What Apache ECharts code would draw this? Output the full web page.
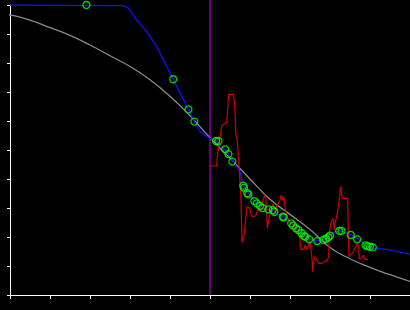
<!DOCTYPE html>
<html>
<head>
<meta charset="utf-8">
<script src="https://cdn.jsdelivr.net/npm/echarts@6/dist/echarts.min.js"></script>
<style>html,body{margin:0;padding:0;background:#000;}#c{width:410px;height:310px;}</style>
</head>
<body>
<div id="c"></div>
<script>
// Gray reference curve
const grayX = [-0.25, 0, 0.5, 1, 1.5, 2, 2.5, 3, 3.5, 4, 4.5, 5, 5.5, 6, 6.5, 7, 7.5, 8, 8.5, 9, 9.5, 10];
const grayY = [9.71, 9.66, 9.48, 9.22, 8.95, 8.62, 8.25, 7.88, 7.42, 6.85, 6.18, 5.42, 4.72, 4.0, 3.3, 2.78, 2.26, 1.64, 1.25, 0.95, 0.7, 0.47];

// Blue fitted curve
const blueX = [0, 2.83, 2.96, 3.17, 3.42, 3.67, 4.08, 4.46, 4.61, 4.75, 5.0, 5.17, 5.42, 5.58, 5.75, 5.83, 5.96, 6.13, 6.29, 6.5, 6.63, 6.83, 7.08, 7.25, 7.5, 7.71, 7.88, 8.0, 8.13, 8.25, 8.54, 8.71, 8.92, 9.08, 9.42, 10];
const blueY = [10, 9.98, 9.89, 9.48, 9.08, 8.56, 7.44, 6.40, 5.98, 5.63, 5.40, 5.29, 4.94, 4.60, 4.25, 3.79, 3.51, 3.22, 2.99, 2.93, 2.87, 2.70, 2.41, 2.18, 1.92, 1.87, 1.92, 2.07, 2.18, 2.22, 2.07, 1.92, 1.69, 1.61, 1.57, 1.41];

// Green markers
const greenX = [1.91, 4.08, 4.46, 4.61, 5.15, 5.21, 5.38, 5.46, 5.56, 5.83, 5.85, 5.93, 5.96, 6.11, 6.17, 6.25, 6.31, 6.46, 6.57, 6.61, 6.82, 6.84, 7.03, 7.08, 7.15, 7.21, 7.29, 7.35, 7.38, 7.48, 7.68, 7.83, 7.9, 7.96, 8.0, 8.23, 8.29, 8.52, 8.68, 8.89, 8.94, 9.0, 9.07];
const greenY = [10, 7.44, 6.40, 5.98, 5.31, 5.31, 5.02, 4.86, 4.60, 3.77, 3.70, 3.51, 3.47, 3.24, 3.16, 3.07, 3.00, 2.95, 2.93, 2.87, 2.70, 2.68, 2.47, 2.39, 2.30, 2.24, 2.13, 2.03, 2.01, 1.92, 1.86, 1.90, 1.94, 1.99, 2.05, 2.21, 2.21, 2.07, 1.92, 1.71, 1.68, 1.67, 1.64];

// Red noisy signal
const redX = [4.983, 5.167, 5.183, 5.217, 5.267, 5.3, 5.35, 5.417, 5.45, 5.467, 5.583, 5.608, 5.633, 5.65, 5.683, 5.708, 5.733, 5.758, 5.775, 5.8, 5.825, 5.858, 5.9, 5.925, 5.958, 5.992, 6.025, 6.058, 6.1, 6.142, 6.183, 6.233, 6.283, 6.333, 6.375, 6.4, 6.417, 6.433, 6.483, 6.5, 6.533, 6.567, 6.6, 6.633, 6.667, 6.708, 6.75, 6.783, 6.817, 6.842, 6.867, 6.892, 6.933, 6.967, 7.017, 7.067, 7.117, 7.167, 7.217, 7.25, 7.267, 7.308, 7.35, 7.383, 7.417, 7.458, 7.5, 7.533, 7.55, 7.567, 7.592, 7.617, 7.667, 7.717, 7.792, 7.875, 7.933, 7.967, 7.983, 8.008, 8.033, 8.058, 8.083, 8.108, 8.133, 8.167, 8.2, 8.233, 8.267, 8.292, 8.308, 8.442, 8.458, 8.475, 8.517, 8.567, 8.625, 8.683, 8.717, 8.733, 8.792, 8.833, 8.867, 8.95];
const redY = [4.448, 4.448, 4.770, 5.115, 5.575, 5.862, 5.897, 5.943, 5.977, 6.920, 6.920, 6.724, 6.034, 5.517, 5.345, 4.770, 4.310, 3.736, 3.276, 1.816, 1.954, 2.126, 2.126, 3.046, 3.069, 2.989, 2.816, 2.701, 2.644, 2.724, 2.874, 2.954, 3.046, 3.299, 3.448, 3.299, 2.816, 2.299, 2.299, 2.816, 2.989, 3.138, 2.989, 2.874, 3.046, 3.103, 3.276, 3.448, 3.276, 3.391, 3.138, 2.908, 2.701, 2.586, 2.529, 2.448, 2.356, 2.264, 2.126, 1.897, 1.575, 1.552, 1.575, 1.724, 1.575, 1.667, 1.874, 1.437, 1.264, 0.805, 1.149, 1.322, 1.230, 1.092, 1.092, 1.149, 1.207, 1.322, 2.126, 2.356, 2.529, 2.494, 2.644, 2.241, 2.529, 2.701, 2.989, 3.276, 3.736, 3.736, 3.333, 3.333, 2.126, 1.322, 1.322, 1.460, 1.609, 1.782, 1.667, 1.264, 1.264, 1.379, 1.230, 1.230];

// Vertical marker
const vLineX = 5;
const vLineY = [0, 10.17];

function zip(a, b) { return a.map((v, i) => [v, b[i]]); }

const chart = echarts.init(document.getElementById('c'), null, {renderer: 'canvas'});
const axisCommon = {
  type: 'value', min: 0, max: 10, interval: 1,
  axisLine: {show: true, onZero: false, lineStyle: {color: '#ffffff', width: 1}},
  axisLabel: {show: false},
  splitLine: {show: false}
};
chart.setOption({
  backgroundColor: '#000000',
  animation: false,
  grid: {left: 10, right: 0, top: 5, bottom: 15},
  xAxis: Object.assign({}, axisCommon, {axisTick: {show: true, length: 4, lineStyle: {color: '#ffffff', width: 1}}}),
  yAxis: Object.assign({}, axisCommon, {axisTick: {show: true, length: 3, lineStyle: {color: '#ffffff', width: 1}}}),
  series: [
    {type: 'line', data: [[vLineX, vLineY[0]], [vLineX, vLineY[1]]], showSymbol: false, clip: false,
     lineStyle: {color: '#b000b0', width: 1.2}, z: 1},
    {type: 'line', data: zip(grayX, grayY), smooth: true, showSymbol: false, clip: false,
     lineStyle: {color: '#8a8a8a', width: 1.3}, z: 2},
    {type: 'line', data: zip(blueX, blueY), showSymbol: false,
     lineStyle: {color: '#1010ff', width: 1.3}, z: 3},
    {type: 'line', data: zip(redX, redY), showSymbol: false,
     lineStyle: {color: '#d00000', width: 1.2}, z: 4},
    {type: 'scatter', data: zip(greenX, greenY), symbol: 'circle', symbolSize: 7,
     itemStyle: {color: 'rgba(0,0,0,0)', borderColor: '#00ff00', borderWidth: 1.3}, z: 5}
  ]
});
</script>
</body>
</html>
